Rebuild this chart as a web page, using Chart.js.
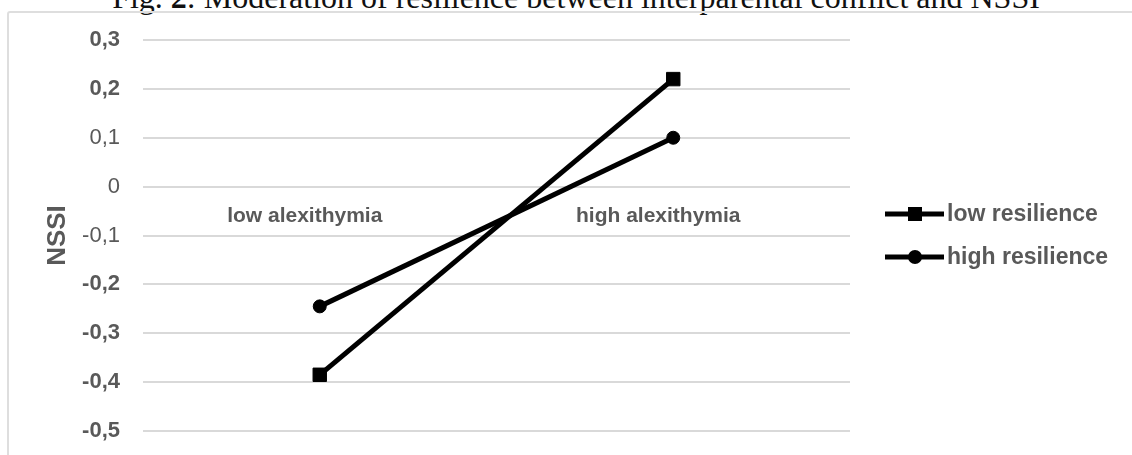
<!DOCTYPE html>
<html><head><meta charset="utf-8">
<script src="https://cdn.jsdelivr.net/npm/chart.js@4/dist/chart.umd.min.js"></script>
<style>
html,body{margin:0;padding:0;background:#fff;overflow:hidden;}
#wrap{position:relative;width:1132px;height:455px;overflow:hidden;}
#frame{position:absolute;left:7px;top:11px;width:1140px;height:460px;border:2px solid #dedede;border-radius:3px;box-sizing:border-box;}
#title{position:absolute;left:10px;width:1132px;text-align:center;top:-19px;font-family:"Liberation Serif";font-size:32px;line-height:1;color:#111;white-space:nowrap;}
canvas{position:absolute;left:0;top:0;}
</style></head><body>
<div id="wrap">
<div id="title">Fig. <b>2</b>: Moderation of resilience between interparental conflict and NSSI</div>
<div id="frame"></div>
<canvas id="c" width="1132" height="455"></canvas>
</div>
<script>
const categories = ['low alexithymia', 'high alexithymia'];
const lowResilience = [-0.385, 0.22];
const highResilience = [-0.245, 0.10];
const seriesNames = ['low resilience', 'high resilience'];
const yTicks = [0.3, 0.2, 0.1, 0, -0.1, -0.2, -0.3, -0.4, -0.5];
const boldTicks = [0.3, 0.2, -0.2, -0.3, -0.4, -0.5];
const yTitle = 'NSSI';

const GRAY = '#595959';
const FONT = '"Liberation Sans", Arial, sans-serif';

const legendPlugin = {
  id: 'customLegend',
  afterDraw(chart) {
    const ctx = chart.ctx;
    const rows = [214, 257];
    chart.data.datasets.forEach((ds, i) => {
      const y = rows[i];
      ctx.save();
      ctx.strokeStyle = '#000';
      ctx.lineWidth = 5;
      ctx.beginPath();
      ctx.moveTo(885, y);
      ctx.lineTo(944, y);
      ctx.stroke();
      ctx.fillStyle = '#000';
      if (ds.pointStyle === 'rect') {
        ctx.fillRect(908, y - 7, 14, 14);
      } else {
        ctx.beginPath();
        ctx.arc(915, y, 7, 0, Math.PI * 2);
        ctx.fill();
      }
      ctx.fillStyle = GRAY;
      ctx.font = 'bold 23px ' + FONT;
      ctx.textAlign = 'left';
      ctx.textBaseline = 'middle';
      ctx.fillText(ds.label, 947, y + 1);
      ctx.restore();
    });
  }
};

new Chart(document.getElementById('c'), {
  type: 'line',
  data: {
    labels: categories,
    datasets: [
      {label: seriesNames[0], data: lowResilience, borderColor: '#000', backgroundColor: '#000',
       borderWidth: 5, pointStyle: 'rect', pointRadius: 9.5, pointBorderWidth: 1, pointBackgroundColor: '#000', pointBorderColor: '#000'},
      {label: seriesNames[1], data: highResilience, borderColor: '#000', backgroundColor: '#000',
       borderWidth: 5, pointStyle: 'circle', pointRadius: 6.5, pointBorderWidth: 1, pointBackgroundColor: '#000', pointBorderColor: '#000'}
    ]
  },
  options: {
    responsive: false,
    animation: false,
    layout: {padding: {left: 0, right: 282, top: 40, bottom: 24}},
    plugins: {legend: {display: false}, tooltip: {enabled: false}, title: {display: false}},
    scales: {
      x: {
        type: 'category',
        position: {y: 0},
        offset: true,
        afterFit(scale) { scale.height = 0; },
        grid: {display: false, drawTicks: false},
        border: {display: false},
        ticks: {color: GRAY, padding: 17, labelOffset: -15, font: {family: FONT, size: 21, weight: 'bold', lineHeight: 1.2}}
      },
      y: {
        min: -0.5, max: 0.3,
        afterFit(scale) { scale.width = 143; scale.paddingTop = 10; scale.paddingBottom = 10; },
        afterBuildTicks(scale) { scale.ticks = yTicks.map(v => ({value: v})); },
        grid: {color: '#d9d9d9', lineWidth: 2, drawTicks: false},
        border: {display: false},
        ticks: {
          color: GRAY, padding: 23,
          font: (c) => ({family: FONT, size: 22, lineHeight: 1.2,
                weight: (c.tick && boldTicks.includes(Math.round(c.tick.value * 10) / 10)) ? 'bold' : 'normal'}),
          callback: (v) => { const r = Math.round(v * 10) / 10; return r === 0 ? '0' : String(r).replace('.', ','); }
        },
        title: {display: true, text: yTitle, color: GRAY, padding: {top: 42, bottom: 0},
                font: {family: FONT, size: 26, weight: 'bold', lineHeight: 1.2}}
      }
    }
  },
  plugins: [legendPlugin]
});
</script>
</body></html>
